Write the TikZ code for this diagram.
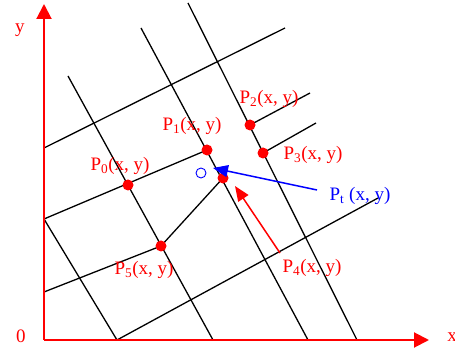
\documentclass[tikz,border=0pt]{standalone}
\usepackage{fontspec}
\setmainfont{Liberation Serif}
\usetikzlibrary{arrows.meta}
\tikzset{
  grid/.style={black, line width=1.3pt},
  axis/.style={red, line width=2pt, -{Triangle[length=15pt,width=15pt]}},
  dot/.style={circle, fill=red, inner sep=0pt, minimum size=11pt},
  lbl/.style={red, font=\fontsize{19}{22}\selectfont, inner sep=0pt},
  bluelbl/.style={blue, font=\fontsize{19}{22}\selectfont, inner sep=0pt},
  redarrow/.style={red, line width=1.5pt, -{Triangle[length=15pt,width=12pt]}},
  bluearrow/.style={blue, line width=1.5pt, -{Triangle[length=15pt,width=12pt]}},
}
\begin{document}
\begin{tikzpicture}[x=1pt, y=-1pt]
\useasboundingbox (0,0) rectangle (455,352);
% key points
\coordinate (o) at (44,340);
\coordinate (xend) at (429,340);
\coordinate (yend) at (44,4);
\coordinate (p0) at (128,185);
\coordinate (p1) at (207,150);
\coordinate (p2) at (250,125);
\coordinate (p3) at (263,153);
\coordinate (p4) at (223,178);
\coordinate (p5) at (161,246);
% grid line ends
\coordinate (aT) at (68,76);   \coordinate (aB) at (213,340);
\coordinate (bT) at (141,28);  \coordinate (bB) at (308,340);
\coordinate (cT) at (188,3);   \coordinate (cB) at (357,340);
\coordinate (dT) at (44,219);  \coordinate (dB) at (117,340);
\coordinate (l1L) at (44,148); \coordinate (l1R) at (285,28);
\coordinate (l3R) at (310,93);
\coordinate (l4R) at (316,123);
\coordinate (l5L) at (44,292);
\coordinate (l6R) at (378,198);
% grid
\draw[grid] (aT) -- (aB);
\draw[grid] (bT) -- (bB);
\draw[grid] (cT) -- (cB);
\draw[grid] (dT) -- (dB);
\draw[grid] (l1L) -- (l1R);
\draw[grid] (dT) -- (p1);
\draw[grid] (p2) -- (l3R);
\draw[grid] (p3) -- (l4R);
\draw[grid] (l5L) -- (p5);
\draw[grid] (dB) -- (l6R);
\draw[grid] (p5) -- (p4);
% axes
\draw[axis] (o) -- (xend);
\draw[axis] (o) -- (yend);
\node[lbl] (ylab) at (20,30) {y};
\node[lbl] (olab) at (21,336) {0};
\node[lbl] (xlab) at (452,337) {x};
% dots
\node[dot] (d0) at (p0) {};
\node[dot] (d1) at (p1) {};
\node[dot] (d2) at (p2) {};
\node[dot] (d3) at (p3) {};
\node[dot] (d4) at (p4) {};
\node[dot] (d5) at (p5) {};
% target
\node[circle, draw=blue, line width=0.9pt, minimum size=10pt, inner sep=0pt] (pt) at (201,173) {};
\coordinate (bs) at (317,190);
\coordinate (bt) at (213,168);
\draw[bluearrow] (bs) -- (bt);
\coordinate (rs) at (280,253);
\coordinate (rt) at (235,186);
\draw[redarrow] (rs) -- (rt);
% labels
\node[lbl] (t0) at (120,166) {P\textsubscript{0}(x, y)};
\node[lbl] (t1) at (192,126) {P\textsubscript{1}(x, y)};
\node[lbl] (t2) at (269,99) {P\textsubscript{2}(x, y)};
\node[lbl] (t3) at (313,155) {P\textsubscript{3}(x, y)};
\node[lbl] (t4) at (312,268) {P\textsubscript{4}(x, y)};
\node[lbl] (t5) at (144,270) {P\textsubscript{5}(x, y)};
\node[bluelbl] (tt) at (360,196) {P\textsubscript{t} (x, y)};
\end{tikzpicture}
\end{document}
